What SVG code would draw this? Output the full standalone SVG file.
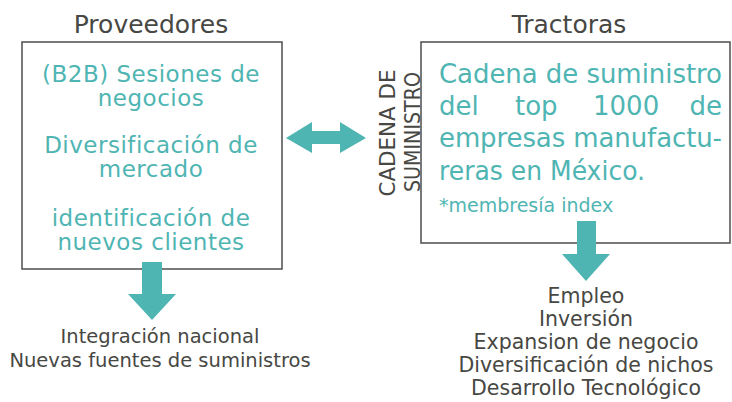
<svg xmlns="http://www.w3.org/2000/svg" width="732" height="402" viewBox="0 0 732 402">
<style>
text{font-family:"DejaVu Sans",sans-serif}
.box{fill:#ffffff;stroke:#4d4d4d;stroke-width:1.5}
.title{font-size:25px;fill:#474743;text-anchor:middle}
.teal{fill:#4fb5b3}
.lt{font-size:23px;text-anchor:middle;letter-spacing:0.5px}
.rt{font-size:26px}
.dark{fill:#474743;text-anchor:middle}
.arrow{fill:#4fb5b3}
</style>
<rect width="732" height="402" fill="#ffffff"/>
<g id="proveedores">
<text class="title" x="151" y="33">Proveedores</text>
<rect class="box" x="22" y="42" width="260" height="227"/>
<text class="teal lt" x="151" y="82">(B2B) Sesiones de</text>
<text class="teal lt" x="151" y="106">negocios</text>
<text class="teal lt" x="151" y="153">Diversificación de</text>
<text class="teal lt" x="151" y="177">mercado</text>
<text class="teal lt" x="151" y="226">identificación de</text>
<text class="teal lt" x="151" y="250">nuevos clientes</text>
</g>
<g id="tractoras">
<text class="title" x="569" y="33">Tractoras</text>
<rect class="box" x="421" y="42" width="309" height="201"/>
<text class="teal rt" x="439" y="83" textLength="283" lengthAdjust="spacing">Cadena de suministro</text>
<text class="teal rt" x="439" y="115">del</text>
<text class="teal rt" x="515" y="115">top</text>
<text class="teal rt" x="593" y="115">1000</text>
<text class="teal rt" x="722" y="115" text-anchor="end">de</text>
<text class="teal rt" x="439" y="147" textLength="283" lengthAdjust="spacing">empresas manufactu-</text>
<text class="teal rt" x="439" y="180" textLength="206" lengthAdjust="spacingAndGlyphs">reras en México.</text>
<text class="teal" x="439" y="212" font-size="19">*membresía index</text>
</g>
<g id="cadena-label">
<text class="dark" font-size="22" transform="translate(395,133) rotate(-90)" x="0" y="0" textLength="127" lengthAdjust="spacingAndGlyphs">CADENA DE</text>
<text class="dark" font-size="22" transform="translate(420,132) rotate(-90)" x="0" y="0" textLength="120" lengthAdjust="spacingAndGlyphs">SUMINISTRO</text>
</g>
<g id="connectors">
<polygon class="arrow" points="286,138 312,122 312,131 340,131 340,122 366,138 340,153 340,144 312,144 312,153"/>
<polygon class="arrow" points="142,262 162,262 162,294 176,294 152,320 128,294 142,294"/>
<polygon class="arrow" points="577,221 596,221 596,254 610,254 586,281 562,254 577,254"/>
</g>
<g id="resultados-proveedores">
<text class="dark" font-size="19.5" x="160" y="343">Integración nacional</text>
<text class="dark" font-size="19.5" x="160" y="367">Nuevas fuentes de suministros</text>
</g>
<g id="resultados-tractoras">
<text class="dark" font-size="20.5" x="586" y="303">Empleo</text>
<text class="dark" font-size="20.5" x="586" y="326">Inversión</text>
<text class="dark" font-size="20.5" x="586" y="349">Expansion de negocio</text>
<text class="dark" font-size="20.5" x="586" y="372">Diversificación de nichos</text>
<text class="dark" font-size="20.5" x="586" y="395">Desarrollo Tecnológico</text>
</g>
</svg>
